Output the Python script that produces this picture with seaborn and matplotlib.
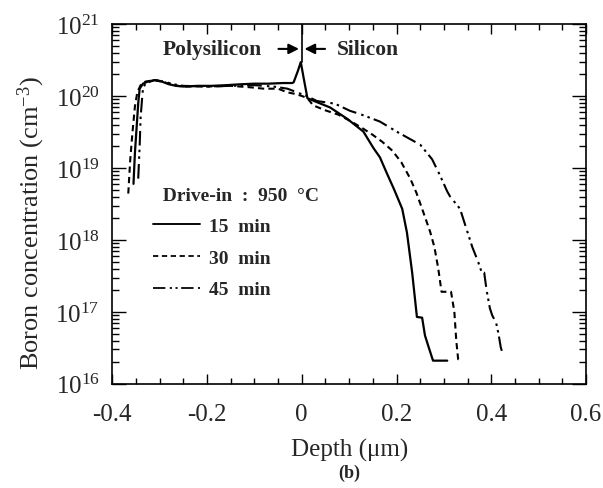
import numpy as np
import pandas as pd
import matplotlib
matplotlib.use("Agg")
import matplotlib.pyplot as plt
import seaborn as sns
from matplotlib.lines import Line2D
from matplotlib.ticker import LogLocator, LogFormatterMathtext, MultipleLocator, FixedLocator, NullFormatter

# ---- data ----
depth_15 = [-0.355, -0.352, -0.348, -0.345, -0.342, -0.335, -0.325, -0.31, -0.295, -0.28, -0.265, -0.25,
            -0.22, -0.19, -0.16, -0.13, -0.10, -0.07, -0.04, -0.02, -0.017, -0.008, -0.002, 0.004, 0.012,
            0.03, 0.06, 0.096, 0.13, 0.151, 0.165, 0.18, 0.195, 0.212, 0.222, 0.233, 0.243, 0.254, 0.26,
            0.268, 0.277, 0.307]
conc_15 = [6.0e18, 1.6e19, 4.0e19, 7.9e19, 1.26e20, 1.48e20, 1.58e20, 1.66e20, 1.58e20, 1.45e20, 1.38e20, 1.35e20,
           1.38e20, 1.38e20, 1.41e20, 1.45e20, 1.48e20, 1.48e20, 1.51e20, 1.51e20, 1.55e20, 2.24e20, 2.95e20, 1.78e20, 9.3e19,
           8.3e19, 6.9e19, 4.8e19, 3.2e19, 1.9e19, 1.4e19, 8.3e18, 5.0e18, 2.7e18, 1.26e18, 3.5e17, 8.5e16, 8.3e16, 4.7e16,
           3.2e16, 2.1e16, 2.1e16]

depth_30 = [-0.366, -0.362, -0.357, -0.352, -0.347, -0.34, -0.33, -0.31, -0.29, -0.27, -0.25, -0.2, -0.15,
            -0.11, -0.08, -0.05, -0.03, -0.015, 0.0, 0.012, 0.024, 0.05, 0.077, 0.102, 0.127, 0.149, 0.17,
            0.191, 0.21, 0.229, 0.242, 0.254, 0.271, 0.28, 0.288, 0.295, 0.315, 0.322, 0.326, 0.33, 0.335]
conc_30 = [4.4e18, 1.26e19, 3.2e19, 7.1e19, 1.12e20, 1.41e20, 1.58e20, 1.66e20, 1.55e20, 1.41e20, 1.35e20, 1.35e20, 1.38e20,
           1.32e20, 1.26e20, 1.26e20, 1.12e20, 1.07e20, 1.0e20, 9.3e19, 7.4e19, 6.3e19, 5.5e19, 4.5e19, 3.6e19, 2.9e19, 2.3e19,
           1.74e19, 1.2e19, 7.1e18, 4.5e18, 2.7e18, 1.29e18, 7.9e17, 4.0e17, 1.9e17, 1.9e17, 1.0e17, 4.0e16, 2.2e16, 2.2e16]

depth_45 = [-0.345, -0.342, -0.34, -0.337, -0.335, -0.33, -0.32, -0.31, -0.29, -0.27, -0.25, -0.2, -0.15,
            -0.1, -0.06, -0.03, -0.01, 0.01, 0.032, 0.07, 0.102, 0.123, 0.165, 0.2, 0.25, 0.275, 0.292, 0.307,
            0.313, 0.334, 0.345, 0.36, 0.372, 0.38, 0.385, 0.39, 0.397, 0.402, 0.41, 0.415, 0.42, 0.425]
conc_45 = [7.1e18, 2.0e19, 5.0e19, 8.9e19, 1.26e20, 1.48e20, 1.58e20, 1.66e20, 1.58e20, 1.45e20, 1.38e20, 1.35e20, 1.38e20,
           1.41e20, 1.35e20, 1.26e20, 1.12e20, 1.0e20, 8.5e19, 7.8e19, 6.2e19, 5.6e19, 4.4e19, 3.2e19, 2.1e19, 1.32e19, 7.8e18, 4.7e18,
           4.0e18, 2.7e18, 1.6e18, 7.9e17, 5.0e17, 3.5e17, 3.5e17, 2.0e17, 1.12e17, 8.9e16, 7.1e16, 5.0e16, 3.2e16, 2.5e16]

series_labels = ["15  min", "30  min", "45  min"]
x_ticks = [-0.4, -0.2, 0, 0.2, 0.4, 0.6]
x_tick_labels = ["-0.4", "-0.2", "0", "0.2", "0.4", "0.6"]

# ---- style ----
sns.set_style("ticks")
plt.rcParams['font.family'] = ['Liberation Serif', 'DejaVu Serif']
plt.rcParams['mathtext.fontset'] = 'custom'
plt.rcParams['mathtext.rm'] = 'Liberation Serif'
plt.rcParams['mathtext.it'] = 'Liberation Serif:italic'
plt.rcParams['mathtext.bf'] = 'Liberation Serif:bold'
plt.rcParams['axes.unicode_minus'] = False

fig = plt.figure(figsize=(6.03, 4.89), dpi=100)
ax = fig.add_axes([0.186, 0.213, 0.786, 0.736])

styles = [dict(linestyle='-', lw=1.6),
          dict(linestyle=(0, (3.0, 2.0)), lw=1.5),
          dict(linestyle=(0, (7.0, 2.5, 1.2, 2.0, 1.2, 2.0)), lw=1.5)]
datasets = [(depth_15, conc_15), (depth_30, conc_30), (depth_45, conc_45)]
for (xs, ys), lab, st in zip(datasets, series_labels, styles):
    df = pd.DataFrame({"Depth": xs, "Conc": ys})
    sns.lineplot(data=df, x="Depth", y="Conc", ax=ax, sort=False, color='black',
                 linestyle=st['linestyle'], lw=st['lw'], label=lab, legend=False)

ax.set_yscale('log')
ax.set_xlim(-0.4, 0.6)
ax.set_ylim(1e16, 1e21)

ax.xaxis.set_major_locator(FixedLocator(x_ticks))
ax.set_xticklabels(x_tick_labels)
ax.xaxis.set_minor_locator(MultipleLocator(0.05))
ax.yaxis.set_major_locator(LogLocator(base=10, numticks=10))
ax.yaxis.set_major_formatter(LogFormatterMathtext())
ax.yaxis.set_minor_locator(LogLocator(base=10, subs=np.arange(2, 10), numticks=20))
ax.yaxis.set_minor_formatter(NullFormatter())

ax.tick_params(axis='both', which='both', direction='in', top=True, right=True, color='black', width=1.0)
ax.tick_params(axis='x', which='major', length=7, labelsize=18, pad=14)
ax.tick_params(axis='x', which='minor', length=4)
ax.tick_params(axis='y', which='major', length=10, labelsize=18, pad=9)
ax.tick_params(axis='y', which='minor', length=5)
for s in ax.spines.values():
    s.set_linewidth(1.2)
    s.set_color('black')

ax.set_xlabel("Depth (\u03bcm)", fontsize=18, labelpad=9)
ax.set_ylabel("Boron concentration (cm$^{-3}$)", fontsize=19)
ax.yaxis.set_label_coords(-0.138, 0.45)

# interface marker and annotations
ax.plot([0, 0], [1e21, 3.0e20], color='black', lw=1.2)
ax.annotate("", xy=(0, 4.5e20), xytext=(-0.055, 4.5e20),
            arrowprops=dict(arrowstyle='-|>', color='black', lw=1.5, mutation_scale=15))
ax.annotate("", xy=(0, 4.5e20), xytext=(0.055, 4.5e20),
            arrowprops=dict(arrowstyle='-|>', color='black', lw=1.5, mutation_scale=15))
ax.text(-0.084, 4.5e20, "Polysilicon", ha='right', va='center', fontsize=15.5, fontweight='bold')
ax.text(0.075, 4.5e20, "Silicon", ha='left', va='center', fontsize=15.5, fontweight='bold')

handles = [Line2D([], [], color='black', linestyle=st['linestyle'], lw=st['lw'] * 0.85) for st in styles]
leg = ax.legend(handles, series_labels, title="  Drive-in  :  950  \u00b0C", loc='upper left',
                bbox_to_anchor=(0.086, 0.548), frameon=False, handlelength=2.4, handletextpad=0.5,
                labelspacing=0.72, prop={'weight': 'bold', 'size': 14},
                title_fontproperties={'weight': 'bold', 'size': 14}, alignment='left',
                borderaxespad=0.0, borderpad=0.0)

fig.text(0.58, 0.033, "(b)", ha='center', va='center', fontsize=13, fontweight='bold')

fig.savefig("out.png", dpi=100)
